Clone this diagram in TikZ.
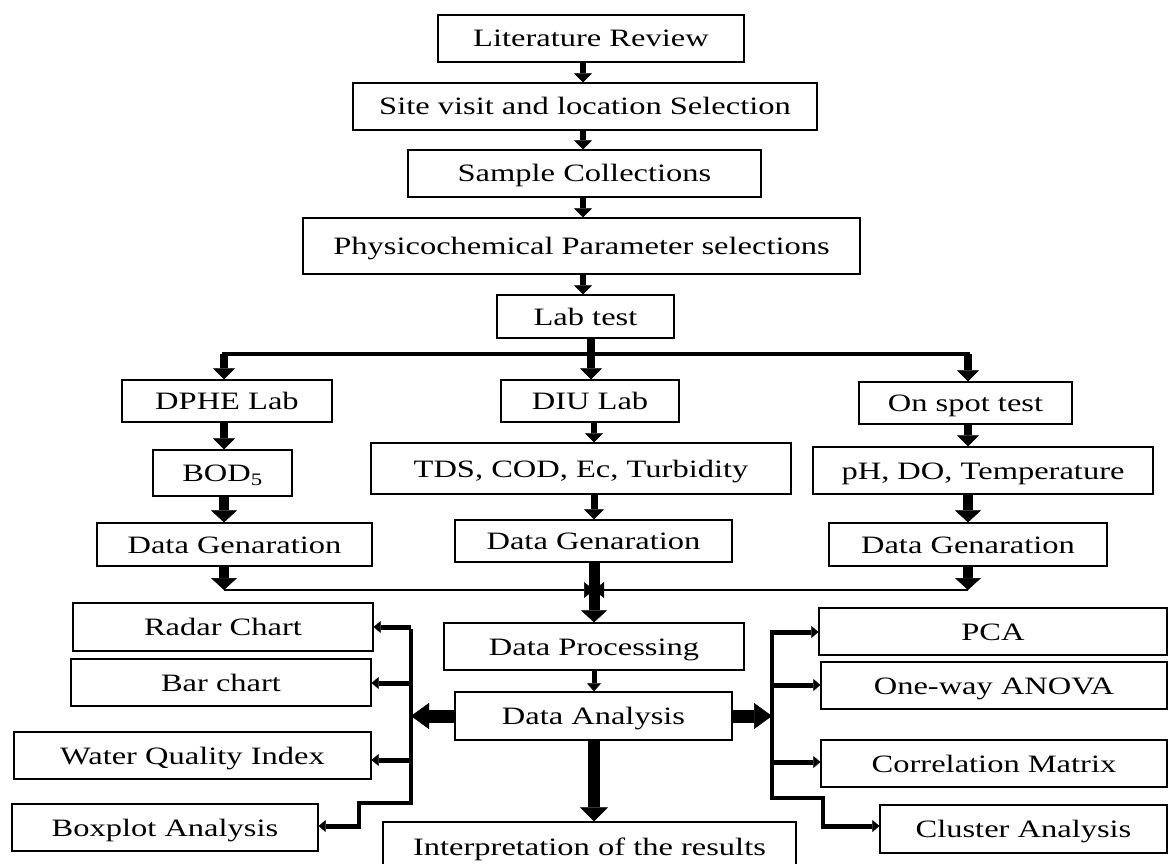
\documentclass[tikz,border=0pt]{standalone}
\usepackage{fontspec}
\setmainfont{Liberation Serif}[FakeStretch=1.3]
\usetikzlibrary{arrows.meta}
\begin{document}
\begin{tikzpicture}[x=1pt,y=-1pt,
  bx/.style={draw, line width=1.3pt, inner sep=0pt, text height=17pt, text depth=0pt,
             font=\fontsize{25}{28}\selectfont},
  ar/.style n args={3}{line width=#1, -{Triangle[width=#2,length=#3,line width=0.5pt]}},
  ln/.style={line width=#1}]
\useasboundingbox (0,0) rectangle (1170,864);
% main column
\node[bx, minimum width=306pt, minimum height=47pt] (lit) at (591,38.5) {Literature Review};
\node[bx, minimum width=464pt, minimum height=47pt] (site) at (585,106.5) {Site visit and location Selection};
\node[bx, minimum width=353pt, minimum height=47pt] (sample) at (584.5,173.5) {Sample Collections};
\node[bx, minimum width=557pt, minimum height=56pt] (phys) at (581.5,246) {Physicochemical Parameter selections};
\node[bx, minimum width=177pt, minimum height=43pt] (lab) at (585.5,316.5) {Lab test};
% branches
\node[bx, minimum width=210pt, minimum height=42pt] (dphe) at (227,401) {DPHE Lab};
\node[bx, minimum width=178pt, minimum height=42pt] (diu) at (590,401) {DIU Lab};
\node[bx, minimum width=213pt, minimum height=42pt] (spot) at (965.5,403) {On spot test};
\node[bx, minimum width=139pt, minimum height=46pt] (bod) at (222.5,473) {BOD\textsubscript{5}};
\node[bx, minimum width=420pt, minimum height=51pt] (tds) at (581,468.5) {TDS, COD, Ec, Turbidity};
\node[bx, minimum width=340pt, minimum height=47pt] (ph) at (983,470.5) {pH, DO, Temperature};
\node[bx, minimum width=275pt, minimum height=43pt] (dg1) at (234.5,544.5) {Data Genaration};
\node[bx, minimum width=277pt, minimum height=42pt] (dg2) at (593.5,541) {Data Genaration};
\node[bx, minimum width=278pt, minimum height=43pt] (dg3) at (968,544.5) {Data Genaration};
% processing
\node[bx, minimum width=300pt, minimum height=47pt] (proc) at (594,646.5) {Data Processing};
\node[bx, minimum width=277pt, minimum height=48pt] (ana) at (593.5,716) {Data Analysis};
\node[bx, minimum width=413pt, minimum height=50pt] (interp) at (589.5,847) {Interpretation of the results};
% left outputs
\node[bx, minimum width=300pt, minimum height=48pt] (radar) at (223,627) {Radar Chart};
\node[bx, minimum width=300pt, minimum height=47pt] (bar) at (221,682.5) {Bar chart};
\node[bx, minimum width=357pt, minimum height=47pt] (wqi) at (192.5,755.5) {Water Quality Index};
\node[bx, minimum width=306pt, minimum height=47pt] (boxp) at (165,827.5) {Boxplot Analysis};
% right outputs
\node[bx, minimum width=348pt, minimum height=47pt] (pca) at (993,631.5) {PCA};
\node[bx, minimum width=346pt, minimum height=47pt] (anova) at (994,685.5) {One-way ANOVA};
\node[bx, minimum width=346pt, minimum height=47pt] (corr) at (994,763.5) {Correlation Matrix};
\node[bx, minimum width=287pt, minimum height=48pt] (clus) at (1023.5,829) {Cluster Analysis};

% coordinates
\coordinate (cx) at (583,0);
\coordinate (cm) at (591,0);
\coordinate (bL) at (224,354);
\coordinate (bR) at (968,354);
\coordinate (hL) at (224,590);
\coordinate (hR) at (968,590);
\coordinate (hC) at (594,590);
\coordinate (lv1) at (411,627);
\coordinate (lv2) at (411,683);
\coordinate (lv3) at (411,760);
\coordinate (lv4) at (411,803);
\coordinate (lk1) at (359,803);
\coordinate (lk2) at (359,826);
\coordinate (rv1) at (772,632);
\coordinate (rv2) at (772,685);
\coordinate (rv3) at (772,762);
\coordinate (rv4) at (772,798);
\coordinate (rk1) at (823,798);
\coordinate (rk2) at (823,826);

% top chain
\draw[ar={6pt}{18pt}{9pt}] (lit.south -| cx) -- (site.north -| cx);
\draw[ar={6pt}{18pt}{9pt}] (site.south -| cx) -- (sample.north -| cx);
\draw[ar={6pt}{18pt}{9pt}] (sample.south -| cx) -- (phys.north -| cx);
\draw[ar={6pt}{18pt}{9pt}] (phys.south -| cx) -- (lab.north -| cx);
% branching
\draw[ln=3.5pt] ([xshift=-1.75pt]bL) -- ([xshift=1.75pt]bR);
\draw[ar={8pt}{22pt}{11pt}] (lab.south -| cm) -- (diu.north -| cm);
\draw[ar={8pt}{22pt}{11pt}] (bL) -- (dphe.north -| bL);
\draw[ar={8pt}{22pt}{11pt}] (bR) -- (spot.north -| bR);
% left column
\draw[ar={8pt}{22pt}{11pt}] (dphe.south -| bL) -- (bod.north -| bL);
\draw[ar={10pt}{26pt}{12pt}] (bod.south -| bL) -- (dg1.north -| bL);
\draw[ar={10pt}{26pt}{12pt}] (dg1.south -| bL) -- (hL);
% middle column
\draw[ar={6pt}{18pt}{9pt}] (diu.south -| hC) -- (tds.north -| hC);
\draw[ar={7pt}{20pt}{10pt}] (tds.south -| hC) -- (dg2.north -| hC);
% right column
\draw[ar={8pt}{22pt}{11pt}] (spot.south -| bR) -- (ph.north -| bR);
\draw[ar={10pt}{26pt}{12pt}] (ph.south -| bR) -- (dg3.north -| bR);
\draw[ar={10pt}{26pt}{12pt}] (dg3.south -| bR) -- (hR);
% converging line
\draw[ar={2pt}{16pt}{10pt}] (hL) -- (hC);
\draw[ar={2pt}{16pt}{10pt}] (hR) -- (hC);
\draw[ar={11pt}{26pt}{12pt}] (dg2.south -| hC) -- (proc.north -| hC);
\draw[ar={5pt}{14pt}{8pt}] (proc.south -| hC) -- (ana.north -| hC);
\draw[ar={12pt}{28pt}{14pt}] (ana.south -| hC) -- (interp.north -| hC);
% left bracket
\draw[ar={13pt}{26pt}{18pt}] (ana.west) -- (ana.west -| lv1);
\draw[ln=4pt] ([yshift=-2pt]lv1) -- (lv4) -- (lk1) -- (lk2);
\draw[ar={5pt}{12pt}{7pt}] (lv1) -- (lv1 -| radar.east);
\draw[ar={5pt}{12pt}{7pt}] (lv2) -- (lv2 -| bar.east);
\draw[ar={5pt}{12pt}{7pt}] (lv3) -- (lv3 -| wqi.east);
\draw[ar={5pt}{12pt}{7pt}] ([xshift=2pt]lk2) -- (lk2 -| boxp.east);
% right bracket
\draw[ar={13pt}{26pt}{18pt}] (ana.east) -- (ana.east -| rv1);
\draw[ln=4pt] ([yshift=-2pt]rv1) -- (rv4) -- (rk1) -- (rk2);
\draw[ar={5pt}{12pt}{7pt}] ([xshift=-2pt]rv1) -- (rv1 -| pca.west);
\draw[ar={5pt}{12pt}{7pt}] (rv2) -- (rv2 -| anova.west);
\draw[ar={5pt}{12pt}{7pt}] (rv3) -- (rv3 -| corr.west);
\draw[ar={5pt}{12pt}{7pt}] ([xshift=-2pt]rk2) -- (rk2 -| clus.west);
\end{tikzpicture}
\end{document}
